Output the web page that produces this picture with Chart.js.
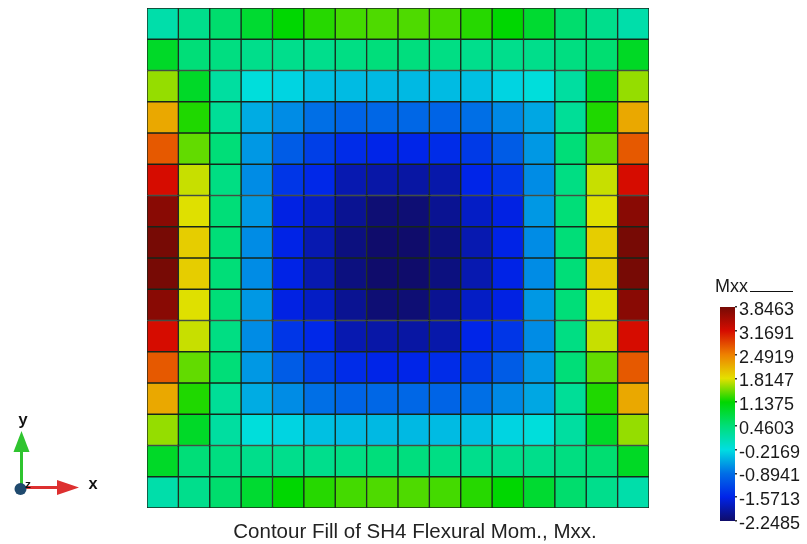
<!DOCTYPE html>
<html>
<head>
<meta charset="utf-8">
<script src="https://cdn.jsdelivr.net/npm/chart.js@4.4.1/dist/chart.umd.min.js"></script>
<style>
  html, body { margin: 0; padding: 0; background: #ffffff; }
  #wrap { position: relative; width: 807px; height: 544px; overflow: hidden; }
  #plate { position: absolute; left: 0; top: 0; }
  #cbar { position: absolute; left: 700px; top: 260px; }
</style>
</head>
<body>
<div id="wrap">
  <canvas id="plate" width="807" height="544"></canvas>
  <canvas id="cbar" width="107" height="284"></canvas>
</div>
<script>
// Element columns across the plate (left to right)
const columns = ['1','2','3','4','5','6','7','8','9','10','11','12','13','14','15','16'];

// Mxx per element, one array per row of elements, top row first
const row01 = [0.14, 0.33, 0.52, 0.86, 1.13, 1.25, 1.34, 1.37, 1.37, 1.34, 1.25, 1.13, 0.86, 0.52, 0.33, 0.14];
const row02 = [0.91, 0.46, 0.40, 0.34, 0.33, 0.33, 0.38, 0.44, 0.42, 0.38, 0.33, 0.33, 0.34, 0.40, 0.50, 0.93];
const row03 = [1.58, 0.91, 0.20, -0.18, -0.28, -0.40, -0.43, -0.44, -0.44, -0.43, -0.40, -0.28, -0.18, 0.20, 0.91, 1.58];
const row04 = [2.21, 1.23, 0.26, -0.52, -0.71, -0.89, -0.98, -0.96, -0.96, -0.98, -0.89, -0.73, -0.55, 0.26, 1.23, 2.21];
const row05 = [2.72, 1.43, 0.46, -0.64, -1.06, -1.32, -1.49, -1.55, -1.55, -1.49, -1.36, -1.06, -0.64, 0.46, 1.43, 2.72];
const row06 = [3.17, 1.73, 0.39, -0.71, -1.40, -1.53, -1.87, -1.92, -1.94, -1.90, -1.55, -1.40, -0.71, 0.39, 1.73, 3.17];
const row07 = [3.71, 1.80, 0.46, -0.64, -1.60, -1.76, -2.03, -2.19, -2.19, -2.03, -1.76, -1.60, -0.64, 0.46, 1.80, 3.71];
const row08 = [3.84, 1.95, 0.46, -0.71, -1.58, -1.87, -2.13, -2.24, -2.24, -2.13, -1.87, -1.58, -0.71, 0.46, 1.95, 3.84];
const row09 = [3.84, 1.95, 0.46, -0.71, -1.58, -1.87, -2.13, -2.24, -2.24, -2.13, -1.87, -1.58, -0.71, 0.46, 1.95, 3.84];
const row10 = [3.71, 1.80, 0.46, -0.64, -1.60, -1.76, -2.03, -2.19, -2.19, -2.03, -1.76, -1.60, -0.64, 0.46, 1.80, 3.71];
const row11 = [3.17, 1.73, 0.39, -0.71, -1.40, -1.53, -1.87, -1.92, -1.94, -1.90, -1.55, -1.40, -0.71, 0.39, 1.73, 3.17];
const row12 = [2.72, 1.43, 0.46, -0.64, -1.06, -1.32, -1.49, -1.55, -1.55, -1.49, -1.36, -1.06, -0.64, 0.46, 1.43, 2.72];
const row13 = [2.21, 1.23, 0.26, -0.52, -0.71, -0.89, -0.98, -0.96, -0.96, -0.98, -0.89, -0.73, -0.55, 0.26, 1.23, 2.21];
const row14 = [1.58, 0.91, 0.20, -0.18, -0.28, -0.40, -0.43, -0.44, -0.44, -0.43, -0.40, -0.28, -0.18, 0.20, 0.91, 1.58];
const row15 = [0.91, 0.46, 0.40, 0.34, 0.33, 0.33, 0.38, 0.44, 0.42, 0.38, 0.33, 0.33, 0.34, 0.40, 0.50, 0.93];
const row16 = [0.14, 0.33, 0.52, 0.86, 1.13, 1.25, 1.34, 1.37, 1.37, 1.34, 1.25, 1.13, 0.86, 0.52, 0.33, 0.14];

// Contour levels shown on the colour bar (bottom to top)
const levelValues = [-2.2485, -1.5713, -0.8941, -0.2169, 0.4603, 1.1375, 1.8147, 2.4919, 3.1691, 3.8463];
const levelLabels = ['-2.2485', '-1.5713', '-0.8941', '-0.2169', '0.4603', '1.1375', '1.8147', '2.4919', '3.1691', '3.8463'];

const legendTitle = 'Mxx';
const caption = 'Contour Fill of SH4 Flexural Mom., Mxx.';

// Rainbow palette, one colour per contour level
const levelColors = [
  [15, 12, 105], [0, 35, 232], [0, 110, 230], [0, 222, 225], [0, 222, 120],
  [0, 215, 0], [228, 224, 0], [238, 128, 0], [214, 12, 0], [118, 10, 5]
];

const rows = [row01, row02, row03, row04, row05, row06, row07, row08,
              row09, row10, row11, row12, row13, row14, row15, row16];
const nRows = rows.length;

function colorFor(v) {
  const lv = levelValues;
  if (v <= lv[0]) return 'rgb(' + levelColors[0].join(',') + ')';
  if (v >= lv[lv.length - 1]) return 'rgb(' + levelColors[lv.length - 1].join(',') + ')';
  for (let i = 0; i < lv.length - 1; i++) {
    if (v >= lv[i] && v <= lv[i + 1]) {
      const f = (v - lv[i]) / (lv[i + 1] - lv[i]);
      const a = levelColors[i], b = levelColors[i + 1];
      const c = a.map((x, k) => Math.round(x + (b[k] - x) * f));
      return 'rgb(' + c.join(',') + ')';
    }
  }
}

const FONT = '"Liberation Sans", Arial, Helvetica, sans-serif';

// Each row of elements is a dataset of floating bars spanning one unit of height
const datasets = rows.map((vals, r) => ({
  data: vals.map(() => [nRows - 1 - r, nRows - r]),
  backgroundColor: vals.map(colorFor),
  borderColor: '#17261a',
  borderWidth: 1,
  borderSkipped: false,
  grouped: false,
  barPercentage: 1,
  categoryPercentage: 1
}));

// Caption under the plate and the small x/y/z axis triad
const decorations = {
  id: 'decorations',
  afterDraw(chart) {
    const ctx = chart.ctx;
    ctx.save();
    ctx.fillStyle = '#222';
    ctx.font = '20.5px ' + FONT;
    ctx.textAlign = 'center';
    ctx.textBaseline = 'alphabetic';
    ctx.fillText(caption, (chart.chartArea.left + chart.chartArea.right) / 2 + 17, 538);

    // y arrow (green)
    const ox = 21.5, oy = 487.5;
    ctx.fillStyle = '#2fc42f';
    ctx.fillRect(ox - 1.5, 450, 3, oy - 450);
    ctx.beginPath();
    ctx.moveTo(ox, 431); ctx.lineTo(ox - 8, 452); ctx.lineTo(ox + 8, 452); ctx.closePath();
    ctx.fill();
    // x arrow (red)
    ctx.fillStyle = '#dd3030';
    ctx.fillRect(ox, oy - 1.5, 58 - ox, 3);
    ctx.beginPath();
    ctx.moveTo(79, oy); ctx.lineTo(57, oy - 7.5); ctx.lineTo(57, oy + 7.5); ctx.closePath();
    ctx.fill();
    // z (toward viewer)
    ctx.fillStyle = '#1f4a6e';
    ctx.beginPath();
    ctx.arc(20.5, 489, 6, 0, Math.PI * 2);
    ctx.fill();
    ctx.fillStyle = '#111';
    ctx.font = 'bold 16px "Liberation Mono", "DejaVu Sans Mono", monospace';
    ctx.textAlign = 'center';
    ctx.textBaseline = 'middle';
    ctx.fillText('y', 23, 421);
    ctx.fillText('x', 93, 485);
    ctx.font = 'bold 11px "Liberation Mono", monospace';
    ctx.fillText('z', 28, 485);
    ctx.restore();
  }
};

new Chart(document.getElementById('plate'), {
  type: 'bar',
  data: { labels: columns, datasets },
  options: {
    responsive: false,
    animation: false,
    devicePixelRatio: 1,
    layout: { padding: { left: 147, right: 158, top: 8, bottom: 36 } },
    scales: {
      x: { display: false },
      y: { display: false, min: 0, max: nRows }
    },
    plugins: { legend: { display: false }, tooltip: { enabled: false } }
  },
  plugins: [decorations]
});

// Colour bar: gradient filled along the level scale
const barFill = {
  id: 'barFill',
  beforeDatasetsDraw(chart) {
    const { ctx, chartArea } = chart;
    const ys = chart.scales.y;
    const g = ctx.createLinearGradient(0, chartArea.bottom, 0, chartArea.top);
    levelValues.forEach((v, i) => {
      const p = (chartArea.bottom - ys.getPixelForValue(v)) / (chartArea.bottom - chartArea.top);
      g.addColorStop(Math.min(1, Math.max(0, p)), 'rgb(' + levelColors[i].join(',') + ')');
    });
    ctx.save();
    ctx.fillStyle = g;
    ctx.fillRect(chartArea.left, chartArea.top, chartArea.right - chartArea.left, chartArea.bottom - chartArea.top);
    ctx.restore();
  },
  afterDraw(chart) {
    const ctx = chart.ctx;
    ctx.save();
    ctx.fillStyle = '#1a1a1a';
    ctx.font = '18px ' + FONT;
    ctx.textBaseline = 'alphabetic';
    ctx.textAlign = 'left';
    ctx.fillText(legendTitle, 15, 32);
    ctx.strokeStyle = '#111';
    ctx.lineWidth = 1.2;
    ctx.beginPath();
    ctx.moveTo(50, 31.5); ctx.lineTo(93, 31.5);
    ctx.stroke();
    ctx.restore();
  }
};

new Chart(document.getElementById('cbar'), {
  type: 'bar',
  data: { labels: [''], datasets: [] },
  options: {
    responsive: false,
    animation: false,
    devicePixelRatio: 1,
    layout: { padding: { left: 20, right: 0, top: 47, bottom: 23 } },
    scales: {
      x: { display: false },
      y: {
        position: 'right',
        min: levelValues[0],
        max: levelValues[levelValues.length - 1],
        afterBuildTicks: (s) => { s.ticks = levelValues.map(v => ({ value: v })); },
        afterFit: (s) => { s.width = 72; },
        ticks: {
          autoSkip: false,
          padding: 2,
          labelOffset: 3,
          color: '#1a1a1a',
          font: { family: FONT, size: 18 },
          callback: (v, i) => levelLabels[i]
        },
        grid: { drawOnChartArea: false, drawTicks: true, tickLength: 2, color: '#333', lineWidth: 1.5 },
        border: { display: false }
      }
    },
    plugins: { legend: { display: false }, tooltip: { enabled: false } }
  },
  plugins: [barFill]
});
</script>
</body>
</html>
